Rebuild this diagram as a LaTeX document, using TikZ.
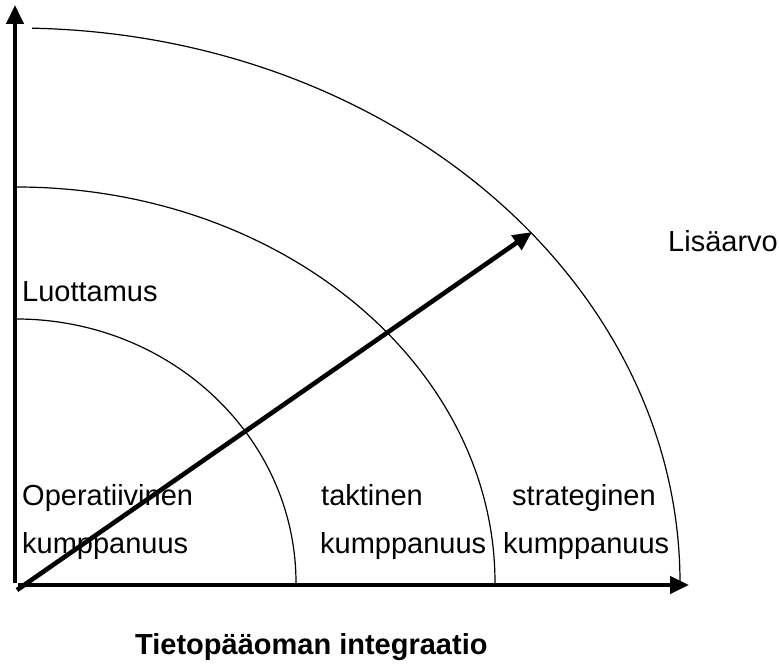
\documentclass[tikz,border=0pt]{standalone}
\usepackage{fontspec}
\setmainfont{Liberation Sans}
\usetikzlibrary{arrows.meta}
\begin{document}
\begin{tikzpicture}[x=1pt,y=1pt,
  axis/.style={line width=4.2pt,-{Triangle[width=17pt,length=19pt]}},
  ring/.style={line width=1.2pt},
  lbl/.style={anchor=base west,inner sep=0pt,font=\fontsize{29}{34}\selectfont},
  ttl/.style={anchor=base west,inner sep=0pt,font=\fontsize{29}{34}\selectfont\bfseries}]
\useasboundingbox (0,0) rectangle (779,664);
\coordinate (vO) at (15,81);
\coordinate (vT) at (15,659);
\coordinate (hO) at (18,79);
\coordinate (hT) at (689,79);
\coordinate (dO) at (17,74);
\coordinate (dT) at (532,432);
% arcs
\draw[ring] (296,81) arc[start angle=0,end angle=90,x radius=280,y radius=264];
\draw[ring] (495,81) arc[start angle=0,end angle=90,x radius=479,y radius=396];
\draw[ring] (680,81) arc[start angle=0,end angle=88.6,x radius=664,y radius=555];
% axes
\draw[axis] (vO) -- (vT);
\draw[axis] (hO) -- (hT);
\draw[axis,line width=4.6pt] (dO) -- (dT);
% labels
\node[lbl] (luo) at (22,362) {Luottamus};
\node[lbl] (lis) at (668,412) {Lisäarvo};
\node[lbl] (op) at (22,158) {Operatiivinen};
\node[lbl] (k1) at (22,110) {kumppanuus};
\node[lbl] (tak) at (321,158) {taktinen};
\node[lbl] (k2) at (320,110) {kumppanuus};
\node[lbl] (str) at (512,158) {strateginen};
\node[lbl] (k3) at (503,110) {kumppanuus};
\node[ttl] (tit) at (135,10) {Tietopääoman integraatio};
\end{tikzpicture}
\end{document}
